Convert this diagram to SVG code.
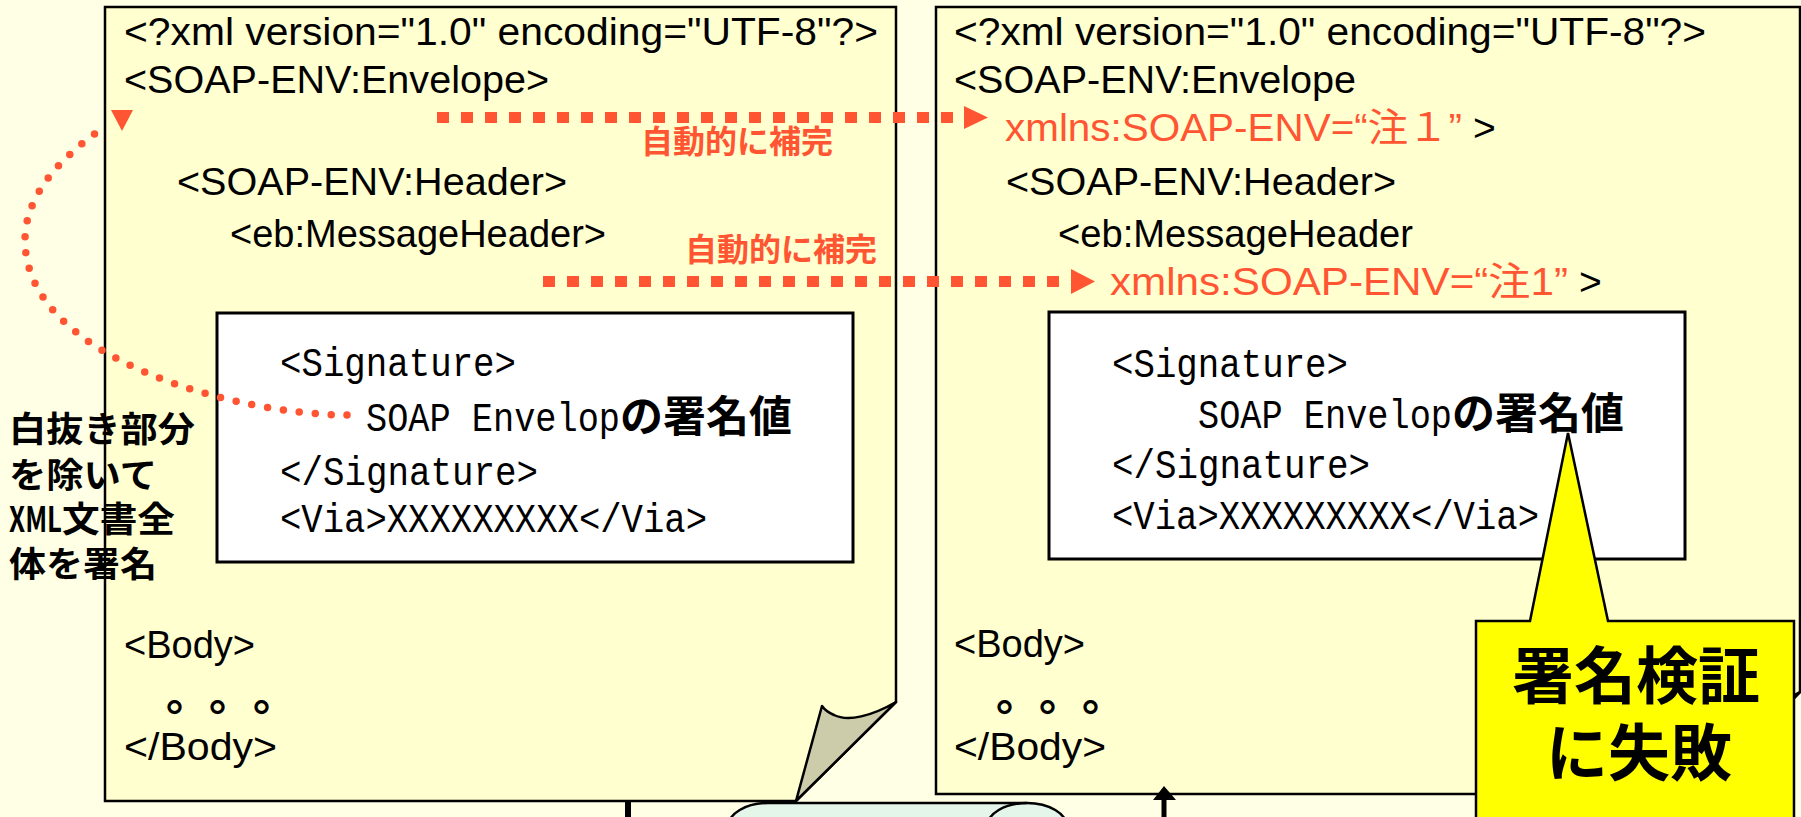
<svg xmlns="http://www.w3.org/2000/svg" width="1801" height="817" viewBox="0 0 1801 817">
  <style>
    .page { fill: #FFFFCF; stroke: #000; stroke-width: 2.5; }
    .flap { fill: #CCCBAA; stroke: #000; stroke-width: 2.5; stroke-linejoin: round; }
    .sigbox { fill: #FFFFFF; stroke: #000; stroke-width: 3; }
    .xml { font-family: "Liberation Sans", "Noto Sans CJK JP", sans-serif; font-size: 39px; fill: #000; }
    .ns { fill: #FF5533; }
    .mono { font-family: "Liberation Mono", "Noto Sans CJK JP", monospace; font-size: 41px; fill: #000; }
    .kanji { font-family: "Noto Sans CJK JP", sans-serif; font-size: 43px; font-weight: 700; }
    .dots { font-family: "Noto Sans CJK JP", sans-serif; font-size: 44px; font-weight: 700; fill: #000; }
    .note { font-family: "Noto Sans CJK JP", sans-serif; font-size: 32px; font-weight: 700; fill: #FF5533; }
    .side { font-family: "Noto Sans CJK JP", sans-serif; font-size: 35px; font-weight: 700; fill: #000; }
    .alert { font-family: "Noto Sans CJK JP", sans-serif; font-size: 62px; font-weight: 700; fill: #000; text-anchor: middle; }
    .dash { fill: none; stroke: #FF5533; stroke-width: 11; stroke-dasharray: 12 12; }
    .dotted { fill: none; stroke: #FF5533; stroke-width: 7.5; stroke-linecap: round; stroke-dasharray: 0 16; }
    .head { fill: #FF5533; }
    .wire { stroke: #000; stroke-width: 6; fill: none; }
  </style>

  <!-- background -->
  <rect x="0" y="0" width="1801" height="817" fill="#FFFFE6"/>

  <!-- transport drum at the bottom -->
  <g id="transport">
    <path d="M768,803 L1027,803 A40,24 0 0 1 1027,851 L768,851 A40,24 0 0 1 768,803 Z" fill="#E4F5EA" stroke="#000" stroke-width="2.5"/>
    <path d="M1027,803 A40,24 0 0 0 1027,851" fill="none" stroke="#000" stroke-width="2.5"/>
  </g>

  <!-- sent message (left page) -->
  <g id="sent-message">
    <path class="page" d="M105,7 H896 V702 L796,801 H105 Z"/>
    <path class="flap" d="M896,702 C872,716 848,722 834,715 C827,712 824,709 822,706 L796,801 Z"/>
    <text class="xml" x="124" y="45" textLength="754" lengthAdjust="spacingAndGlyphs">&lt;?xml version="1.0" encoding="UTF-8"?&gt;</text>
    <text class="xml" x="124" y="93" textLength="425" lengthAdjust="spacingAndGlyphs">&lt;SOAP-ENV:Envelope&gt;</text>
    <text class="xml" x="177" y="195" textLength="390" lengthAdjust="spacingAndGlyphs">&lt;SOAP-ENV:Header&gt;</text>
    <text class="xml" x="230" y="247" textLength="376" lengthAdjust="spacingAndGlyphs">&lt;eb:MessageHeader&gt;</text>
    <text class="xml" x="124" y="658" textLength="131" lengthAdjust="spacingAndGlyphs">&lt;Body&gt;</text>
    <text class="dots" x="166" y="711">。</text>
    <text class="dots" x="209" y="711">。</text>
    <text class="dots" x="253" y="711">。</text>
    <text class="xml" x="124" y="760" textLength="153" lengthAdjust="spacingAndGlyphs">&lt;/Body&gt;</text>
  </g>

  <g id="sent-signature">
    <rect class="sigbox" x="217" y="313" width="636" height="249"/>
    <text class="mono" x="280" y="376" textLength="236" lengthAdjust="spacingAndGlyphs">&lt;Signature&gt;</text>
    <text class="mono" x="366" y="431"><tspan textLength="254" lengthAdjust="spacingAndGlyphs">SOAP Envelop</tspan><tspan class="kanji" x="620" dy="1">の署名値</tspan></text>
    <text class="mono" x="280" y="485" textLength="258" lengthAdjust="spacingAndGlyphs">&lt;/Signature&gt;</text>
    <text class="mono" x="280" y="532" textLength="427" lengthAdjust="spacingAndGlyphs">&lt;Via&gt;XXXXXXXXX&lt;/Via&gt;</text>
  </g>

  <!-- received message (right page) -->
  <g id="received-message">
    <path class="page" d="M936,7 H1800 V692 L1700,794 H936 Z"/>
    <path class="flap" d="M1800,692 C1776,706 1752,712 1738,705 C1731,702 1728,699 1726,696 L1700,794 Z"/>
    <text class="xml" x="954" y="45" textLength="752" lengthAdjust="spacingAndGlyphs">&lt;?xml version="1.0" encoding="UTF-8"?&gt;</text>
    <text class="xml" x="954" y="93" textLength="402" lengthAdjust="spacingAndGlyphs">&lt;SOAP-ENV:Envelope</text>
    <text class="xml ns" x="1005" y="141" textLength="457" lengthAdjust="spacingAndGlyphs">xmlns:SOAP-ENV=“注１”</text>
    <text class="xml" x="1473" y="141">&gt;</text>
    <text class="xml" x="1006" y="195" textLength="390" lengthAdjust="spacingAndGlyphs">&lt;SOAP-ENV:Header&gt;</text>
    <text class="xml" x="1058" y="247" textLength="355" lengthAdjust="spacingAndGlyphs">&lt;eb:MessageHeader</text>
    <text class="xml ns" x="1110" y="295" textLength="458" lengthAdjust="spacingAndGlyphs">xmlns:SOAP-ENV=“注1”</text>
    <text class="xml" x="1579" y="295">&gt;</text>
    <text class="xml" x="954" y="657" textLength="131" lengthAdjust="spacingAndGlyphs">&lt;Body&gt;</text>
    <text class="dots" x="996" y="711">。</text>
    <text class="dots" x="1039" y="711">。</text>
    <text class="dots" x="1082" y="711">。</text>
    <text class="xml" x="954" y="760" textLength="152" lengthAdjust="spacingAndGlyphs">&lt;/Body&gt;</text>
  </g>

  <g id="received-signature">
    <rect class="sigbox" x="1049" y="312" width="636" height="247"/>
    <text class="mono" x="1112" y="377" textLength="236" lengthAdjust="spacingAndGlyphs">&lt;Signature&gt;</text>
    <text class="mono" x="1198" y="428"><tspan textLength="254" lengthAdjust="spacingAndGlyphs">SOAP Envelop</tspan><tspan class="kanji" x="1452" dy="1">の署名値</tspan></text>
    <text class="mono" x="1112" y="478" textLength="258" lengthAdjust="spacingAndGlyphs">&lt;/Signature&gt;</text>
    <text class="mono" x="1112" y="529" textLength="427" lengthAdjust="spacingAndGlyphs">&lt;Via&gt;XXXXXXXXX&lt;/Via&gt;</text>
  </g>

  <!-- note on the signed range -->
  <g id="scope-label">
    <text class="side" x="9" y="442" textLength="186" lengthAdjust="spacingAndGlyphs">白抜き部分</text>
    <text class="side" x="9" y="488" textLength="148" lengthAdjust="spacingAndGlyphs">を除いて</text>
    <text class="side" x="9" y="532"><tspan textLength="53" lengthAdjust="spacingAndGlyphs">XML</tspan><tspan x="62" textLength="113" lengthAdjust="spacingAndGlyphs">文書全</tspan></text>
    <text class="side" x="9" y="577" textLength="148" lengthAdjust="spacingAndGlyphs">体を署名</text>
  </g>

  <g id="connectors">
    <!-- namespace declarations added automatically -->
    <line class="dash" x1="437" y1="117.5" x2="962" y2="117.5"/>
    <polygon class="head" points="964,106 988,117.5 964,129"/>
    <text class="note" x="641" y="153">自動的に補完</text>
    <line class="dash" x1="543" y1="281.5" x2="1068" y2="281.5"/>
    <polygon class="head" points="1071,269 1095,281.5 1071,294"/>
    <text class="note" x="685" y="261">自動的に補完</text>
    <!-- signed scope loop -->
    <path class="dotted" d="M347,415 C240,415 25,360 25,240 C25,190 70,150 106,126"/>
    <polygon class="head" points="111,110 133,110 122,131"/>
    <!-- transfer lines -->
    <line class="wire" x1="628" y1="802" x2="628" y2="817"/>
    <line x1="1164" y1="798" x2="1164" y2="817" stroke="#000" stroke-width="5"/>
    <polygon points="1153,800 1164,786 1176,800" fill="#000"/>
  </g>

  <!-- verification failure callout -->
  <g id="failure-callout">
    <path d="M1476,621 H1530 L1568,433 L1608,621 H1794 V822 H1476 Z" fill="#FFFF00" stroke="#000" stroke-width="2.5"/>
    <text class="alert" x="1636" y="699">署名検証</text>
    <text class="alert" x="1639" y="776">に失敗</text>
  </g>
</svg>
